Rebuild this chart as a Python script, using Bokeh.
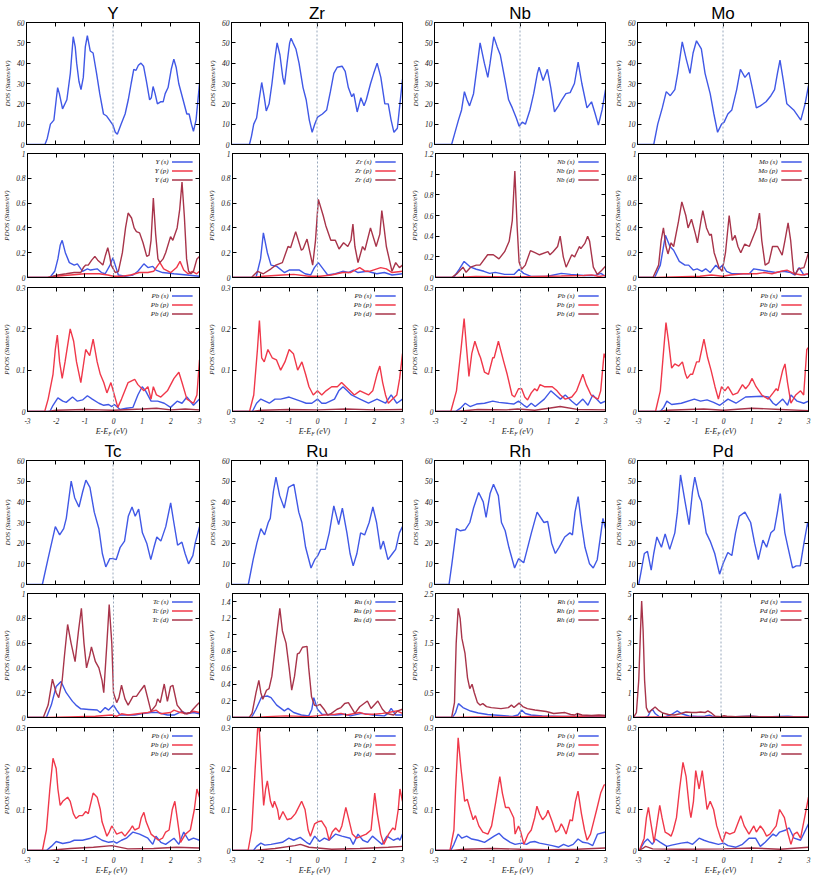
from bokeh.plotting import figure
from bokeh.layouts import row, column
from bokeh.models import Range1d, FixedTicker, Span, Label, Arrow, LinearAxis, Div
from bokeh.embed import file_html
from bokeh.resources import INLINE

# ---------------- data (energy E-E_F in eV, value) ----------------
METALS = ["Y", "Zr", "Nb", "Mo", "Tc", "Ru", "Rh", "Pd"]

Y_DOS = [(-3.0,0),(-2.36,0),(-2.28,3),(-2.17,10),(-2.05,12),(-1.97,22),(-1.92,28),(-1.86,25),(-1.75,17.5),(-1.6,22),(-1.48,35),(-1.38,53),(-1.31,48),(-1.26,40),(-1.18,31),(-1.11,27),(-1.03,33),(-0.96,48),(-0.89,53.5),(-0.79,46),(-0.69,45),(-0.57,35),(-0.46,25),(-0.33,15),(-0.22,14),(-0.12,12),(0.0,9.5),(0.08,6),(0.15,5),(0.28,10),(0.42,15),(0.53,22),(0.63,30),(0.72,37),(0.8,36.5),(0.88,39),(0.97,40),(1.06,38.5),(1.16,31),(1.27,22),(1.33,23),(1.39,28.5),(1.46,25),(1.54,20),(1.65,21),(1.74,21),(1.81,25),(1.91,28),(2.02,37),(2.11,42),(2.19,38),(2.28,30),(2.43,22),(2.56,15),(2.64,15),(2.72,10),(2.79,6.5),(2.88,12),(3.0,30)]
Zr_DOS = [(-3,0),(-2.37,0),(-2.3,4),(-2.22,10),(-2.12,13),(-2.03,22),(-1.94,30.5),(-1.86,24),(-1.78,16.5),(-1.68,20),(-1.58,30),(-1.48,42),(-1.4,50),(-1.3,44),(-1.2,33),(-1.14,29.5),(-1.05,40),(-0.96,50),(-0.91,52.3),(-0.84,50),(-0.74,47),(-0.63,40),(-0.49,28),(-0.38,22),(-0.27,12),(-0.17,6),(-0.08,10),(0.02,13.5),(0.19,15),(0.34,17),(0.47,26),(0.59,35),(0.71,38),(0.88,38.5),(0.99,36),(1.1,28),(1.22,23.5),(1.29,25),(1.41,16),(1.54,23),(1.65,19),(1.73,22),(1.88,30),(1.99,35),(2.11,40),(2.24,33),(2.38,20),(2.5,20),(2.6,12),(2.7,6),(2.82,8),(2.91,20),(3.0,32)]
Nb_DOS = [(-3,0),(-2.4,0),(-2.3,5),(-2.16,12),(-2.05,17),(-1.95,26),(-1.86,22),(-1.77,19),(-1.63,25),(-1.49,40),(-1.4,50),(-1.25,40),(-1.13,33),(-1.05,40),(-0.92,53),(-0.8,48),(-0.69,44),(-0.53,32),(-0.4,22),(-0.27,18),(-0.13,13),(-0.03,9),(0.08,11),(0.19,10),(0.35,17),(0.48,25),(0.61,35),(0.67,38),(0.81,31.5),(0.96,37),(1.08,28),(1.21,16),(1.35,19),(1.47,22),(1.61,25),(1.76,25.5),(1.91,30),(2.04,40.5),(2.17,30),(2.35,18),(2.51,21),(2.64,15),(2.75,9.5),(2.88,17),(3.0,27)]
Mo_DOS = [(-3,0),(-2.43,0),(-2.29,10),(-2.13,18),(-1.99,26),(-1.85,24),(-1.69,27),(-1.59,35),(-1.43,50.5),(-1.29,42),(-1.16,35),(-1.05,45),(-0.93,51),(-0.76,47),(-0.63,35),(-0.45,25),(-0.32,15),(-0.19,6),(-0.05,10),(0.04,11),(0.17,15),(0.31,17),(0.48,27),(0.61,37),(0.77,33),(0.91,35.5),(1.04,27),(1.17,18),(1.31,19),(1.51,21),(1.68,24),(1.81,27),(1.91,35),(2.0,41.5),(2.11,32),(2.24,20),(2.48,17),(2.73,12),(2.88,20),(3.0,29)]
Tc_DOS = [(-3,0),(-2.45,0),(-2.26,12),(-2.13,20),(-2.0,28),(-1.85,24),(-1.71,27),(-1.62,32),(-1.45,50),(-1.33,42),(-1.18,37.5),(-1.05,45),(-0.94,50.5),(-0.8,47),(-0.65,35),(-0.49,27),(-0.37,15),(-0.25,8.5),(-0.11,12.5),(0.0,12.5),(0.11,12),(0.25,18),(0.4,21),(0.53,33),(0.66,37.5),(0.77,33),(0.89,36.5),(1.02,25),(1.17,20),(1.31,12),(1.42,18),(1.52,23),(1.66,21),(1.83,28),(2.0,39.5),(2.11,30),(2.24,19),(2.39,20.5),(2.5,15),(2.62,10),(2.77,14),(2.85,20),(3.0,28)]
Ru_DOS = [(-3,0),(-2.41,0),(-2.24,12),(-2.11,20),(-1.97,27),(-1.84,24),(-1.71,30),(-1.64,32),(-1.53,45),(-1.44,52),(-1.31,43),(-1.15,37),(-1.0,47),(-0.81,48.5),(-0.64,35),(-0.53,30),(-0.4,18),(-0.21,8),(-0.08,12),(0.03,14),(0.13,17),(0.29,17),(0.43,25),(0.59,38),(0.76,29),(0.89,37),(1.05,25),(1.16,15),(1.27,9),(1.4,15),(1.53,25),(1.67,24),(1.83,30),(1.96,37.5),(2.09,30),(2.23,17),(2.33,21),(2.49,12),(2.65,15),(2.76,17),(2.89,25),(3.0,28)]
Rh_DOS = [(-3,0),(-2.49,0),(-2.39,10),(-2.23,27),(-2.09,26),(-1.92,26.5),(-1.76,30),(-1.63,37),(-1.45,44.5),(-1.29,40),(-1.19,32.5),(-1.05,44),(-0.93,48.5),(-0.76,43),(-0.65,30),(-0.52,26),(-0.39,18),(-0.19,8),(-0.05,12.5),(0.13,10.5),(0.27,18),(0.4,25),(0.6,35),(0.84,30),(0.97,30.5),(1.11,20),(1.24,15),(1.37,18),(1.57,23),(1.75,25),(1.84,24),(1.93,35),(2.04,42.5),(2.15,30),(2.28,18),(2.44,10),(2.57,8),(2.71,12),(2.84,25),(2.91,32),(3.0,27)]
Pd_DOS = [(-3,0),(-2.96,0),(-2.89,5),(-2.76,15),(-2.65,16),(-2.52,7),(-2.43,15),(-2.32,23),(-2.16,18),(-2.03,24.5),(-1.87,17),(-1.69,25),(-1.6,35),(-1.49,53),(-1.33,40),(-1.19,29),(-1.07,45),(-0.99,52),(-0.85,43),(-0.76,40),(-0.59,25),(-0.45,21),(-0.29,15),(-0.12,5),(0.0,10),(0.17,15.5),(0.31,14),(0.44,25),(0.57,33),(0.77,35),(0.97,30),(1.11,20),(1.24,12),(1.4,21.5),(1.53,18),(1.68,25),(1.8,26.5),(1.91,35),(2.01,44),(2.17,25),(2.28,18),(2.44,8),(2.57,9),(2.71,9),(2.84,20),(2.97,30),(3.0,28)]

# metal s / p / d projected DOS
Y_S = [(-3,0),(-2.22,0),(-2.05,0.05),(-1.94,0.15),(-1.86,0.26),(-1.79,0.3),(-1.68,0.2),(-1.54,0.12),(-1.37,0.1),(-1.26,0.11),(-1.08,0.05),(-0.91,0.07),(-0.8,0.06),(-0.57,0.07),(-0.42,0.04),(-0.29,0.03),(-0.12,0.1),(-0.02,0.16),(0.06,0.1),(0.17,0.02),(0.4,0.01),(0.68,0.02),(0.85,0.05),(1.06,0.11),(1.2,0.08),(1.37,0.09),(1.48,0.06),(1.71,0.04),(2.11,0.03),(2.56,0.02),(3.0,0.01)]
Y_P = [(-3,0),(-2.3,0),(-2.0,0.01),(-1.5,0.02),(-1.0,0.03),(-0.5,0.03),(-0.2,0.02),(0.0,0.01),(0.3,0.01),(0.6,0.02),(0.9,0.04),(1.2,0.04),(1.4,0.05),(1.55,0.1),(1.62,0.12),(1.75,0.07),(2.0,0.04),(2.2,0.08),(2.32,0.13),(2.45,0.06),(2.6,0.03),(2.75,0.05),(2.9,0.03),(3.0,0.05)]
Y_D = [(-3,0),(-2.3,0),(-2.11,0.01),(-1.94,0.02),(-1.65,0.03),(-1.37,0.04),(-1.14,0.04),(-1.05,0.08),(-0.97,0.1),(-0.88,0.1),(-0.76,0.14),(-0.65,0.17),(-0.55,0.14),(-0.46,0.12),(-0.37,0.1),(-0.28,0.18),(-0.2,0.24),(-0.14,0.18),(-0.08,0.1),(0.06,0.04),(0.17,0.05),(0.31,0.2),(0.42,0.4),(0.51,0.52),(0.63,0.48),(0.72,0.4),(0.8,0.37),(0.91,0.36),(1.03,0.28),(1.16,0.17),(1.24,0.18),(1.31,0.3),(1.39,0.64),(1.47,0.35),(1.55,0.15),(1.62,0.12),(1.73,0.15),(1.82,0.2),(1.99,0.33),(2.07,0.3),(2.22,0.4),(2.31,0.55),(2.39,0.77),(2.47,0.5),(2.55,0.15),(2.62,0.05),(2.7,0.03),(2.79,0.05),(2.91,0.15),(3.0,0.17)]
Zr_S = [(-3,0),(-2.17,0),(-2.01,0.15),(-1.91,0.36),(-1.77,0.2),(-1.64,0.1),(-1.44,0.09),(-1.17,0.04),(-1.0,0.06),(-0.64,0.06),(-0.44,0.03),(-0.24,0.02),(-0.11,0.08),(0.03,0.12),(0.23,0.06),(0.36,0.02),(0.63,0.03),(0.89,0.05),(1.09,0.04),(1.27,0.06),(1.43,0.04),(1.76,0.05),(2.09,0.03),(2.36,0.04),(2.63,0.02),(3.0,0.03)]
Zr_P = [(-3,0),(-2.33,0),(-1.91,0.01),(-1.24,0.02),(-0.84,0.025),(-0.31,0.01),(0.09,0.01),(0.49,0.02),(0.89,0.04),(1.16,0.04),(1.49,0.08),(1.69,0.05),(1.83,0.05),(2.23,0.08),(2.43,0.07),(2.63,0.04),(3.0,0.05)]
Zr_D = [(-3,0),(-2.33,0),(-2.11,0.05),(-1.91,0.03),(-1.64,0.07),(-1.47,0.1),(-1.24,0.12),(-1.04,0.25),(-0.95,0.24),(-0.77,0.37),(-0.57,0.22),(-0.51,0.23),(-0.37,0.31),(-0.17,0.1),(-0.07,0.3),(0.03,0.63),(0.2,0.5),(0.29,0.42),(0.47,0.3),(0.63,0.3),(0.76,0.23),(0.92,0.28),(1.07,0.25),(1.18,0.3),(1.25,0.43),(1.32,0.25),(1.43,0.12),(1.59,0.25),(1.67,0.22),(1.87,0.4),(2.07,0.25),(2.2,0.35),(2.27,0.54),(2.35,0.4),(2.43,0.25),(2.63,0.05),(2.76,0.12),(2.89,0.08),(3.0,0.1)]
Nb_S = [(-3,0),(-2.36,0),(-2.16,0.08),(-1.99,0.155),(-1.76,0.1),(-1.56,0.08),(-1.29,0.06),(-1.09,0.04),(-0.89,0.05),(-0.56,0.03),(-0.23,0.03),(-0.05,0.08),(0.11,0.04),(0.37,0.01),(0.91,0.01),(1.44,0.04),(1.77,0.03),(2.24,0.02),(2.64,0.02),(2.84,0.04),(3.0,0.01)]
Nb_P = [(-3,0),(-2.37,0),(-1.57,0.01),(-0.23,0.005),(0.57,0.01),(1.44,0.015),(2.24,0.02),(2.51,0.025),(2.77,0.01),(3.0,0.02)]
Nb_D = [(-3,0),(-2.43,0),(-2.23,0.04),(-2.03,0.1),(-1.92,0.05),(-1.76,0.1),(-1.56,0.12),(-1.43,0.12),(-1.16,0.22),(-0.96,0.22),(-0.76,0.18),(-0.56,0.25),(-0.4,0.35),(-0.29,0.55),(-0.2,1.03),(-0.12,0.5),(-0.05,0.15),(0.04,0.08),(0.17,0.12),(0.35,0.26),(0.51,0.24),(0.67,0.22),(0.97,0.25),(1.04,0.22),(1.15,0.25),(1.31,0.3),(1.4,0.4),(1.51,0.2),(1.61,0.1),(1.81,0.22),(1.91,0.2),(2.08,0.3),(2.13,0.28),(2.27,0.33),(2.37,0.4),(2.44,0.35),(2.57,0.1),(2.71,0.03),(2.87,0.07),(3.0,0.11)]
Mo_S = [(-3,0),(-2.43,0),(-2.23,0.1),(-2.05,0.34),(-1.89,0.25),(-1.76,0.22),(-1.56,0.13),(-1.36,0.1),(-1.23,0.1),(-1.07,0.06),(-0.93,0.07),(-0.76,0.05),(-0.63,0.07),(-0.47,0.04),(-0.27,0.1),(-0.16,0.07),(-0.03,0.1),(0.11,0.05),(0.31,0.03),(0.71,0.03),(0.91,0.03),(1.07,0.07),(1.31,0.06),(1.57,0.05),(1.84,0.04),(2.11,0.05),(2.37,0.04),(2.51,0.02),(2.67,0.08),(2.84,0.02),(3.0,0.03)]
Mo_P = [(-3,0),(-2.43,0),(-1.76,0.005),(-0.83,0.01),(-0.43,0.02),(-0.03,0.01),(0.24,0.02),(0.71,0.03),(1.17,0.03),(1.44,0.04),(1.71,0.03),(2.04,0.05),(2.24,0.06),(2.51,0.03),(2.77,0.02),(3.0,0.03)]
Mo_D = [(-3,0),(-2.49,0),(-2.29,0.1),(-2.2,0.3),(-2.12,0.4),(-2.03,0.25),(-1.96,0.19),(-1.85,0.28),(-1.76,0.25),(-1.59,0.45),(-1.47,0.61),(-1.33,0.5),(-1.25,0.4),(-1.13,0.47),(-0.99,0.35),(-0.92,0.28),(-0.8,0.45),(-0.73,0.54),(-0.6,0.4),(-0.49,0.34),(-0.43,0.35),(-0.33,0.2),(-0.16,0.08),(-0.05,0.05),(0.07,0.2),(0.2,0.5),(0.31,0.3),(0.41,0.34),(0.51,0.25),(0.61,0.2),(0.75,0.27),(0.91,0.25),(1.17,0.4),(1.27,0.52),(1.35,0.3),(1.47,0.1),(1.6,0.12),(1.73,0.25),(1.91,0.25),(2.07,0.18),(2.17,0.3),(2.28,0.44),(2.37,0.3),(2.47,0.05),(2.53,0.02),(2.64,0.07),(2.84,0.08),(3.0,0.2)]
Tc_S = [(-3,0),(-2.34,0),(-2.17,0.1),(-2.0,0.25),(-1.83,0.29),(-1.65,0.2),(-1.43,0.13),(-1.31,0.1),(-1.14,0.07),(-0.86,0.065),(-0.57,0.06),(-0.46,0.04),(-0.29,0.08),(-0.17,0.06),(0.0,0.1),(0.11,0.06),(0.23,0.02),(0.74,0.02),(0.97,0.03),(1.31,0.04),(1.54,0.04),(1.88,0.02),(2.11,0.02),(2.39,0.05),(2.56,0.03),(2.79,0.04),(3.0,0.03)]
Tc_P = [(-3,0),(-2.34,0),(-1.54,0.005),(-0.63,0.01),(-0.06,0.02),(0.11,0.01),(0.28,0.03),(0.51,0.02),(0.85,0.03),(1.2,0.04),(1.48,0.06),(1.65,0.03),(1.99,0.04),(2.11,0.06),(2.34,0.04),(2.56,0.03),(2.79,0.05),(3.0,0.04)]
Tc_D = [(-3,0),(-2.45,0),(-2.28,0.1),(-2.13,0.31),(-2.0,0.2),(-1.91,0.16),(-1.79,0.3),(-1.71,0.5),(-1.6,0.75),(-1.48,0.6),(-1.34,0.45),(-1.22,0.7),(-1.12,0.88),(-1.03,0.6),(-0.94,0.4),(-0.83,0.5),(-0.77,0.57),(-0.63,0.45),(-0.51,0.4),(-0.4,0.3),(-0.34,0.2),(-0.23,0.6),(-0.15,0.91),(-0.06,0.6),(0.0,0.2),(0.11,0.12),(0.19,0.16),(0.28,0.26),(0.4,0.15),(0.51,0.1),(0.68,0.17),(0.8,0.17),(0.95,0.22),(1.08,0.26),(1.2,0.15),(1.31,0.05),(1.48,0.1),(1.54,0.15),(1.63,0.12),(1.77,0.27),(1.88,0.13),(1.99,0.25),(2.07,0.26),(2.22,0.1),(2.39,0.05),(2.48,0.03),(2.68,0.04),(2.79,0.07),(2.91,0.1),(3.0,0.12)]
Ru_S = [(-3,0),(-2.33,0),(-2.17,0.1),(-1.97,0.25),(-1.77,0.26),(-1.64,0.24),(-1.44,0.15),(-1.17,0.08),(-1.04,0.11),(-0.84,0.06),(-0.57,0.03),(-0.31,0.02),(-0.2,0.1),(-0.13,0.24),(0.0,0.1),(0.16,0.04),(0.63,0.03),(0.96,0.04),(1.16,0.02),(1.56,0.05),(1.96,0.03),(2.36,0.02),(2.49,0.05),(2.6,0.11),(2.76,0.03),(3.0,0.03)]
Ru_P = [(-3,0),(-2.33,0),(-1.77,0.01),(-1.11,0.02),(-0.31,0.01),(-0.04,0.02),(0.23,0.03),(0.63,0.04),(0.83,0.05),(1.03,0.03),(1.49,0.06),(1.69,0.04),(2.0,0.04),(2.3,0.05),(2.5,0.06),(2.8,0.08),(3.0,0.05)]
Ru_D = [(-3,0),(-2.41,0),(-2.31,0.05),(-2.17,0.3),(-2.07,0.45),(-2.0,0.3),(-1.93,0.22),(-1.8,0.33),(-1.71,0.35),(-1.61,0.5),(-1.51,0.8),(-1.41,1.1),(-1.33,1.32),(-1.24,1.05),(-1.11,0.9),(-1.0,0.6),(-0.91,0.33),(-0.81,0.5),(-0.71,0.77),(-0.64,0.78),(-0.53,0.85),(-0.37,0.86),(-0.31,0.6),(-0.21,0.25),(-0.11,0.15),(-0.04,0.14),(0.09,0.16),(0.23,0.1),(0.36,0.03),(0.49,0.05),(0.69,0.1),(0.83,0.12),(0.96,0.17),(1.09,0.18),(1.23,0.1),(1.32,0.05),(1.49,0.13),(1.76,0.2),(1.89,0.11),(2.13,0.2),(2.29,0.1),(2.43,0.05),(2.56,0.04),(2.69,0.03),(2.83,0.08),(3.0,0.1)]
Rh_S = [(-3,0),(-2.4,0),(-2.29,0.1),(-2.19,0.28),(-2.03,0.2),(-1.76,0.13),(-1.49,0.09),(-1.16,0.06),(-0.69,0.04),(-0.29,0.02),(-0.09,0.05),(0.04,0.15),(0.17,0.08),(0.37,0.05),(0.77,0.03),(1.44,0.02),(1.97,0.02),(3.0,0.01)]
Rh_P = [(-3,0),(-2.4,0),(-1.56,0.01),(-0.23,0.01),(0.44,0.02),(1.77,0.02),(2.44,0.03),(3.0,0.03)]
Rh_D = [(-3,0),(-2.43,0),(-2.33,0.3),(-2.27,1.5),(-2.2,2.2),(-2.13,2.0),(-2.07,1.6),(-1.96,1.3),(-1.87,0.8),(-1.79,0.58),(-1.71,0.67),(-1.63,0.5),(-1.52,0.3),(-1.43,0.25),(-1.33,0.28),(-1.2,0.22),(-1.03,0.2),(-0.69,0.18),(-0.43,0.2),(-0.32,0.25),(-0.23,0.2),(-0.05,0.29),(0.08,0.22),(0.24,0.18),(0.51,0.15),(0.91,0.12),(1.17,0.08),(1.57,0.1),(1.77,0.06),(1.91,0.05),(2.0,0.08),(2.17,0.05),(2.51,0.04),(2.77,0.05),(3.0,0.04)]
Pd_S = [(-3,0),(-2.6,0),(-2.5,0.05),(-2.42,0.25),(-2.35,0.33),(-2.25,0.15),(-2.1,0.02),(-1.9,0.03),(-1.7,0.12),(-1.5,0.27),(-1.35,0.15),(-1.1,0.06),(-0.8,0.04),(-0.55,0.05),(-0.4,0.09),(-0.3,0.05),(-0.1,0.01),(0.2,0.01),(0.5,0.03),(1.0,0.05),(1.5,0.02),(2.0,0.04),(2.3,0.05),(2.6,0.02),(3.0,0.03)]
Pd_P = [(-3,0),(-2.8,0.01),(-2.3,0.02),(-1.5,0.02),(-0.5,0.01),(0.2,0.02),(1.0,0.02),(2.0,0.02),(3.0,0.02)]
Pd_D = [(-3,0),(-2.9,0.2),(-2.82,1.5),(-2.76,3.5),(-2.72,4.7),(-2.67,3.5),(-2.62,1.5),(-2.56,0.4),(-2.48,0.2),(-2.4,0.28),(-2.26,0.42),(-2.15,0.3),(-2.0,0.18),(-1.8,0.12),(-1.6,0.1),(-1.4,0.15),(-1.2,0.22),(-1.0,0.2),(-0.85,0.2),(-0.7,0.22),(-0.55,0.2),(-0.45,0.27),(-0.35,0.2),(-0.2,0.05),(0.0,0.03),(0.1,0.07),(0.2,0.05),(0.5,0.03),(0.7,0.04),(1.0,0.05),(1.3,0.03),(1.6,0.02),(2.0,0.03),(2.5,0.02),(3.0,0.02)]

# Pb s / p / d projected DOS
Y_PBS = [(-3,0),(-2.22,0),(-2.11,0.015),(-1.94,0.033),(-1.77,0.025),(-1.65,0.022),(-1.43,0.035),(-1.26,0.025),(-1.08,0.028),(-0.91,0.038),(-0.74,0.03),(-0.51,0.02),(-0.34,0.015),(-0.17,0.017),(-0.06,0.012),(0.03,0.017),(0.23,0.005),(0.45,0.008),(0.68,0.01),(0.85,0.04),(1.0,0.06),(1.12,0.05),(1.31,0.025),(1.54,0.025),(1.77,0.02),(1.99,0.01),(2.22,0.025),(2.39,0.02),(2.56,0.035),(2.79,0.015),(3.0,0.03)]
Y_PBP = [(-3,0),(-2.4,0),(-2.28,0.03),(-2.11,0.09),(-2.03,0.15),(-1.96,0.185),(-1.88,0.12),(-1.79,0.08),(-1.69,0.12),(-1.51,0.2),(-1.39,0.17),(-1.29,0.12),(-1.14,0.07),(-0.97,0.15),(-0.83,0.135),(-0.71,0.175),(-0.57,0.12),(-0.46,0.09),(-0.34,0.07),(-0.23,0.045),(-0.09,0.07),(0.03,0.04),(0.15,0.01),(0.28,0.03),(0.51,0.07),(0.74,0.078),(0.85,0.065),(1.06,0.05),(1.2,0.06),(1.31,0.03),(1.39,0.06),(1.5,0.04),(1.65,0.035),(1.88,0.05),(2.11,0.08),(2.28,0.095),(2.39,0.07),(2.56,0.03),(2.79,0.02),(2.91,0.04),(3.0,0.125)]
Y_PBD = [(-3,0),(-2.3,0),(-2.0,0.003),(-1.0,0.005),(-0.5,0.004),(0.0,0.003),(1.0,0.006),(1.5,0.008),(2.0,0.004),(2.5,0.006),(3.0,0.004)]
Zr_PBS = [(-3,0),(-2.3,0),(-2.15,0.02),(-2.0,0.03),(-1.85,0.025),(-1.7,0.02),(-1.5,0.03),(-1.3,0.03),(-1.0,0.035),(-0.8,0.03),(-0.6,0.025),(-0.4,0.02),(-0.2,0.02),(0.0,0.03),(0.15,0.02),(0.3,0.02),(0.6,0.03),(0.75,0.05),(0.9,0.06),(1.05,0.05),(1.2,0.04),(1.5,0.03),(1.8,0.02),(2.1,0.03),(2.4,0.02),(2.6,0.04),(2.8,0.02),(3.0,0.03)]
Zr_PBP = [(-3,0),(-2.4,0),(-2.25,0.04),(-2.12,0.15),(-2.05,0.22),(-1.97,0.13),(-1.88,0.12),(-1.75,0.15),(-1.6,0.13),(-1.45,0.125),(-1.3,0.1),(-1.15,0.12),(-1.0,0.15),(-0.85,0.14),(-0.7,0.1),(-0.55,0.12),(-0.42,0.09),(-0.3,0.06),(-0.15,0.04),(0.0,0.05),(0.15,0.04),(0.3,0.05),(0.5,0.06),(0.7,0.06),(0.85,0.07),(1.0,0.06),(1.15,0.05),(1.3,0.04),(1.5,0.05),(1.65,0.045),(1.8,0.04),(1.95,0.05),(2.1,0.09),(2.2,0.11),(2.3,0.07),(2.4,0.04),(2.5,0.02),(2.65,0.03),(2.8,0.04),(2.9,0.08),(3.0,0.14)]
Zr_PBD = [(-3,0),(-2.3,0),(-2.0,0.003),(-1.0,0.005),(0.0,0.004),(1.0,0.006),(2.0,0.004),(3.0,0.005)]
Nb_PBS = [(-3,0),(-2.29,0),(-2.12,0.008),(-1.95,0.02),(-1.78,0.012),(-1.55,0.018),(-1.27,0.02),(-0.98,0.025),(-0.76,0.022),(-0.47,0.02),(-0.24,0.018),(-0.07,0.025),(0.12,0.015),(0.23,0.01),(0.38,0.02),(0.52,0.012),(0.84,0.03),(1.07,0.05),(1.24,0.04),(1.41,0.03),(1.58,0.04),(1.81,0.025),(1.98,0.015),(2.2,0.03),(2.38,0.015),(2.55,0.04),(2.83,0.02),(3.0,0.025)]
Nb_PBP = [(-3,0),(-2.46,0),(-2.26,0.05),(-2.1,0.15),(-1.99,0.225),(-1.9,0.15),(-1.82,0.085),(-1.72,0.14),(-1.61,0.17),(-1.47,0.14),(-1.41,0.13),(-1.27,0.095),(-1.13,0.09),(-0.98,0.13),(-0.93,0.13),(-0.78,0.17),(-0.59,0.12),(-0.47,0.09),(-0.3,0.04),(-0.21,0.035),(-0.07,0.055),(0.04,0.055),(0.15,0.035),(0.25,0.028),(0.38,0.045),(0.5,0.055),(0.59,0.05),(0.69,0.065),(0.84,0.06),(1.12,0.06),(1.29,0.05),(1.41,0.04),(1.58,0.03),(1.81,0.035),(1.98,0.05),(2.2,0.09),(2.32,0.065),(2.49,0.04),(2.6,0.035),(2.74,0.03),(2.83,0.05),(2.95,0.14),(3.0,0.13)]
Nb_PBD = [(-3,0),(-2.3,0),(-1.5,0.005),(-0.5,0.004),(-0.1,0.006),(0.5,0.003),(1.0,0.008),(1.4,0.012),(2.0,0.005),(3.0,0.004)]
Mo_PBS = [(-3,0),(-2.23,0),(-2.11,0.01),(-2.0,0.025),(-1.83,0.017),(-1.49,0.02),(-1.03,0.03),(-0.81,0.025),(-0.58,0.028),(-0.35,0.022),(-0.13,0.015),(0.16,0.03),(0.44,0.02),(0.78,0.035),(1.35,0.037),(1.58,0.035),(1.75,0.02),(1.86,0.015),(2.09,0.03),(2.26,0.015),(2.38,0.04),(2.6,0.025),(2.83,0.02),(3.0,0.025)]
Mo_PBP = [(-3,0),(-2.4,0),(-2.23,0.05),(-2.11,0.15),(-2.03,0.215),(-1.94,0.17),(-1.83,0.105),(-1.72,0.115),(-1.58,0.11),(-1.45,0.12),(-1.34,0.09),(-1.28,0.08),(-1.17,0.09),(-1.09,0.09),(-0.95,0.12),(-0.86,0.12),(-0.69,0.175),(-0.56,0.13),(-0.44,0.1),(-0.3,0.06),(-0.18,0.03),(-0.07,0.06),(0.05,0.05),(0.16,0.06),(0.33,0.04),(0.5,0.045),(0.67,0.065),(0.78,0.055),(0.9,0.065),(1.01,0.08),(1.15,0.06),(1.35,0.04),(1.58,0.03),(1.75,0.045),(1.86,0.055),(1.92,0.05),(2.09,0.1),(2.17,0.115),(2.26,0.07),(2.38,0.02),(2.55,0.04),(2.72,0.05),(2.83,0.04),(2.94,0.15),(3.0,0.155)]
Mo_PBD = [(-3,0),(-2.3,0),(-2.0,0.003),(-0.7,0.006),(0.0,0.003),(1.0,0.008),(2.0,0.005),(3.0,0.002)]
Tc_PBS = [(-3,0),(-2.34,0),(-2.17,0.01),(-2.0,0.022),(-1.77,0.017),(-1.54,0.02),(-1.37,0.025),(-1.08,0.025),(-0.8,0.03),(-0.63,0.035),(-0.4,0.025),(-0.17,0.02),(0.0,0.022),(0.11,0.018),(0.28,0.025),(0.45,0.03),(0.68,0.045),(0.91,0.04),(1.2,0.03),(1.37,0.015),(1.48,0.035),(1.65,0.02),(1.82,0.015),(2.11,0.03),(2.28,0.015),(2.45,0.045),(2.62,0.025),(2.79,0.03),(3.0,0.025)]
Tc_PBP = [(-3,0),(-2.48,0),(-2.34,0.05),(-2.22,0.15),(-2.11,0.225),(-2.0,0.2),(-1.94,0.15),(-1.86,0.11),(-1.77,0.12),(-1.6,0.13),(-1.51,0.12),(-1.4,0.09),(-1.31,0.078),(-1.2,0.085),(-1.08,0.085),(-0.97,0.095),(-0.88,0.09),(-0.71,0.14),(-0.57,0.13),(-0.46,0.1),(-0.4,0.07),(-0.23,0.035),(-0.15,0.045),(-0.06,0.06),(0.03,0.05),(0.11,0.04),(0.28,0.045),(0.4,0.035),(0.57,0.05),(0.66,0.06),(0.74,0.05),(0.89,0.055),(0.97,0.08),(1.06,0.093),(1.14,0.07),(1.31,0.04),(1.57,0.025),(1.71,0.03),(1.82,0.045),(1.94,0.05),(2.05,0.1),(2.14,0.12),(2.22,0.08),(2.34,0.02),(2.51,0.04),(2.68,0.05),(2.82,0.1),(2.91,0.15),(3.0,0.13)]
Tc_PBD = [(-3,0),(-2.3,0),(-1.5,0.005),(-0.7,0.008),(-0.05,0.012),(0.5,0.004),(1.4,0.005),(2.2,0.008),(3.0,0.006)]
Ru_PBS = [(-3,0),(-2.26,0),(-2.15,0.01),(-2.0,0.018),(-1.86,0.013),(-1.64,0.015),(-1.24,0.02),(-1.01,0.03),(-0.84,0.025),(-0.61,0.032),(-0.39,0.02),(-0.27,0.015),(-0.1,0.035),(0.07,0.022),(0.24,0.03),(0.41,0.025),(0.64,0.04),(0.86,0.035),(1.15,0.03),(1.26,0.015),(1.43,0.04),(1.6,0.025),(1.77,0.02),(1.94,0.035),(2.11,0.025),(2.28,0.015),(2.45,0.035),(2.68,0.025),(2.85,0.03),(2.91,0.025),(3.0,0.04)]
Ru_PBP = [(-3,0),(-2.45,0),(-2.32,0.05),(-2.2,0.2),(-2.11,0.3),(-2.06,0.3),(-1.98,0.2),(-1.9,0.11),(-1.83,0.15),(-1.77,0.17),(-1.66,0.12),(-1.58,0.105),(-1.52,0.12),(-1.41,0.1),(-1.35,0.075),(-1.22,0.095),(-1.07,0.075),(-0.93,0.078),(-0.78,0.09),(-0.56,0.12),(-0.44,0.1),(-0.33,0.05),(-0.25,0.035),(-0.1,0.065),(0.01,0.07),(0.14,0.072),(0.3,0.055),(0.41,0.025),(0.52,0.045),(0.64,0.055),(0.77,0.045),(0.86,0.06),(1.0,0.105),(1.09,0.08),(1.23,0.04),(1.38,0.03),(1.55,0.035),(1.72,0.04),(1.89,0.05),(2.02,0.14),(2.11,0.09),(2.23,0.04),(2.34,0.015),(2.51,0.04),(2.66,0.055),(2.74,0.05),(2.85,0.1),(2.91,0.15),(3.0,0.12)]
Ru_PBD = [(-3,0),(-2.3,0),(-1.5,0.005),(-0.8,0.012),(-0.6,0.015),(-0.3,0.008),(0.5,0.003),(1.5,0.005),(2.5,0.008),(3.0,0.01)]
Rh_PBS = [(-3,0),(-2.46,0),(-2.35,0.015),(-2.2,0.04),(-2.07,0.03),(-1.9,0.035),(-1.72,0.028),(-1.5,0.025),(-1.27,0.02),(-0.93,0.035),(-0.76,0.042),(-0.59,0.03),(-0.36,0.02),(-0.19,0.015),(0.04,0.018),(0.21,0.015),(0.33,0.02),(0.5,0.022),(0.67,0.018),(0.9,0.015),(1.12,0.012),(1.35,0.008),(1.52,0.015),(1.69,0.01),(1.86,0.015),(2.03,0.028),(2.2,0.02),(2.38,0.018),(2.55,0.012),(2.72,0.04),(3.0,0.045)]
Rh_PBP = [(-3,0),(-2.49,0),(-2.35,0.05),(-2.29,0.15),(-2.2,0.275),(-2.1,0.2),(-1.97,0.12),(-1.88,0.125),(-1.78,0.1),(-1.67,0.075),(-1.59,0.085),(-1.47,0.06),(-1.33,0.045),(-1.15,0.04),(-1.02,0.06),(-0.87,0.12),(-0.73,0.18),(-0.64,0.14),(-0.53,0.105),(-0.41,0.105),(-0.24,0.08),(-0.19,0.04),(-0.07,0.06),(0.01,0.045),(0.12,0.015),(0.27,0.04),(0.38,0.05),(0.5,0.08),(0.58,0.108),(0.67,0.09),(0.78,0.075),(0.9,0.085),(0.97,0.098),(1.12,0.07),(1.24,0.045),(1.35,0.05),(1.44,0.065),(1.52,0.055),(1.61,0.04),(1.75,0.075),(1.83,0.072),(1.94,0.12),(2.03,0.145),(2.15,0.09),(2.26,0.05),(2.35,0.025),(2.47,0.04),(2.58,0.07),(2.69,0.1),(2.83,0.14),(2.95,0.16),(3.0,0.16)]
Rh_PBD = [(-3,0),(-2.4,0),(-2.0,0.003),(-1.0,0.005),(0.0,0.003),(1.0,0.002),(2.0,0.003),(3.0,0.006)]
Pd_PBS = [(-3,0),(-2.97,0),(-2.8,0.02),(-2.68,0.028),(-2.51,0.015),(-2.4,0.028),(-2.23,0.02),(-2.0,0.01),(-1.83,0.013),(-1.49,0.018),(-1.26,0.02),(-1.09,0.015),(-0.86,0.03),(-0.69,0.025),(-0.47,0.02),(-0.18,0.015),(0.01,0.018),(0.16,0.012),(0.44,0.008),(0.67,0.015),(0.9,0.03),(1.13,0.03),(1.3,0.01),(1.47,0.02),(1.75,0.04),(1.86,0.035),(1.98,0.045),(2.2,0.05),(2.32,0.055),(2.49,0.03),(2.72,0.025),(3.0,0.065)]
Pd_PBP = [(-3,0),(-2.97,0),(-2.8,0.03),(-2.72,0.08),(-2.65,0.105),(-2.57,0.07),(-2.45,0.02),(-2.36,0.06),(-2.25,0.11),(-2.17,0.08),(-2.06,0.045),(-1.94,0.04),(-1.85,0.035),(-1.77,0.05),(-1.66,0.08),(-1.55,0.15),(-1.43,0.215),(-1.32,0.18),(-1.2,0.1),(-1.15,0.08),(-1.06,0.12),(-0.98,0.195),(-0.86,0.15),(-0.75,0.195),(-0.67,0.15),(-0.58,0.1),(-0.47,0.12),(-0.35,0.1),(-0.24,0.06),(-0.1,0.03),(-0.03,0.02),(0.08,0.045),(0.22,0.04),(0.39,0.045),(0.5,0.065),(0.61,0.085),(0.73,0.06),(0.9,0.04),(1.07,0.06),(1.16,0.045),(1.3,0.06),(1.41,0.05),(1.52,0.035),(1.64,0.04),(1.86,0.06),(1.98,0.1),(2.15,0.08),(2.26,0.045),(2.38,0.015),(2.49,0.04),(2.6,0.045),(2.72,0.03),(2.89,0.09),(3.0,0.13)]
Pd_PBD = [(-3,0),(-2.85,0.005),(-2.75,0.01),(-2.5,0.004),(-1.5,0.003),(0.0,0.004),(1.0,0.006),(2.0,0.003),(3.0,0.008)]

# axis ranges / ticks of the metal PDOS panels
PDOS_YMAX = {"Y": 1.0, "Zr": 1.0, "Nb": 1.2, "Mo": 1.0, "Tc": 1.0, "Ru": 1.5, "Rh": 2.5, "Pd": 5.0}
PDOS_TICKS = {
    "Y": [0, 0.2, 0.4, 0.6, 0.8, 1.0], "Zr": [0, 0.2, 0.4, 0.6, 0.8, 1.0],
    "Nb": [0, 0.2, 0.4, 0.6, 0.8, 1.0, 1.2], "Mo": [0, 0.2, 0.4, 0.6, 0.8, 1.0],
    "Tc": [0, 0.2, 0.4, 0.6, 0.8, 1.0], "Ru": [0, 0.2, 0.4, 0.6, 0.8, 1.0, 1.2, 1.4],
    "Rh": [0, 0.5, 1.0, 1.5, 2.0, 2.5], "Pd": [0, 1, 2, 3, 4, 5]}
DOS_TICKS = [0, 10, 20, 30, 40, 50, 60]
PB_TICKS = [0, 0.1, 0.2, 0.3]
X_TICKS = [-3, -2, -1, 0, 1, 2, 3]

G = globals()
DOS = {m: G[m + "_DOS"] for m in METALS}
MS = {m: G[m + "_S"] for m in METALS}
MP = {m: G[m + "_P"] for m in METALS}
MD = {m: G[m + "_D"] for m in METALS}
PBS = {m: G[m + "_PBS"] for m in METALS}
PBP = {m: G[m + "_PBP"] for m in METALS}
PBD = {m: G[m + "_PBD"] for m in METALS}

# ---------------- style ----------------
BLUE = "#4058e6"
RED = "#f0384a"
DRED = "#a8344a"
ZERO = "#98a8bc"
TXT = "#222222"
SERIF = "Liberation Serif"
SANS = "Liberation Sans"
LW = 1.4

COL_W = [205, 203, 203, 201]
LEFTS = [24, 22, 22, 22]
FRAME_W = 175
XLAB_H = 9
# (height, min_border_top, min_border_bottom, frame height) per row of a group
ROWSPEC = [
    [(148, 19, 4, 125), (134, 5, 5, 124), (144, 5, 15, 124)],
    [(153, 25, 4, 124), (134, 5, 5, 124), (143, 5, 15, 123)],
]


def fmt(t):
    return "%g" % t


def unzip(pairs):
    return [a for a, b in pairs], [b for a, b in pairs]


def style_axis(ax, ticks, show, standoff=2):
    ax.ticker = FixedTicker(ticks=ticks)
    ax.major_tick_in = 4
    ax.major_tick_out = 0
    ax.minor_tick_in = 0
    ax.minor_tick_out = 0
    ax.axis_line_color = "black"
    ax.major_tick_line_color = "black"
    ax.major_label_text_font = SERIF
    ax.major_label_text_font_style = "italic"
    ax.major_label_text_font_size = "7.5px"
    ax.major_label_text_color = TXT if show else None
    ax.major_label_standoff = standoff if show else 0
    if show:
        ax.major_label_overrides = {t: fmt(t) for t in ticks}


def panel(width, left, spec, ymax, yticks, ylabel, show_x, title=None):
    h, mbt, mbb, fh = spec
    p = figure(width=width, height=h, x_range=Range1d(-3, 3), y_range=Range1d(0, ymax),
               toolbar_location=None, output_backend="svg",
               x_axis_location=None, y_axis_location=None,
               min_border_left=left, min_border_right=width - left - FRAME_W,
               min_border_top=mbt, min_border_bottom=mbb)
    p.grid.visible = False
    p.outline_line_color = "black"
    p.outline_line_width = 1
    p.background_fill_color = "white"
    p.border_fill_color = "white"
    bx = LinearAxis()
    style_axis(bx, X_TICKS, show_x, standoff=6)
    p.add_layout(bx, "below")
    tx = LinearAxis()
    style_axis(tx, X_TICKS, False)
    if title is not None:
        tx.axis_label = title
        tx.axis_label_text_font = SANS
        tx.axis_label_text_font_style = "normal"
        tx.axis_label_text_font_size = "17px"
        tx.axis_label_text_color = "black"
        tx.axis_label_standoff = 0
    p.add_layout(tx, "above")
    ly = LinearAxis(axis_label=ylabel)
    style_axis(ly, yticks, True, standoff=2)
    ly.axis_label_text_font = SERIF
    ly.axis_label_text_font_style = "italic"
    ly.axis_label_text_font_size = "7px"
    ly.axis_label_text_color = TXT
    ly.axis_label_standoff = 2
    p.add_layout(ly, "left")
    ry = LinearAxis()
    style_axis(ry, yticks, False)
    p.add_layout(ry, "right")
    p.add_layout(Span(location=0, dimension="height", line_color=ZERO,
                      line_dash="2 2", line_width=1))
    return p


def curve(p, pairs, color):
    xs, ys = unzip(pairs)
    p.line(xs, ys, line_color=color, line_width=LW)


def legend(p, labels, colors, ymax, fh):
    for k, (lab, c) in enumerate(zip(labels, colors)):
        dy = 8.5 + 9 * k
        yy = ymax - dy * ymax / fh
        p.add_layout(Label(x=3, y=yy, x_offset=-31, text=lab, text_align="right",
                           text_baseline="middle", text_font=SERIF,
                           text_font_style="italic", text_font_size="7px",
                           text_color=TXT))
        x0 = 3 - 28 * 6.0 / FRAME_W
        x1 = 3 - 7 * 6.0 / FRAME_W
        p.add_layout(Arrow(x_start=x0, y_start=yy, x_end=x1, y_end=yy, end=None,
                           line_color=c, line_width=1.6))


def xlabel_div(width, left):
    html = ('<div style="position:relative;top:-4px;width:%dpx;margin-left:%dpx;'
            'text-align:center;font-family:\'Liberation Serif\';font-style:italic;'
            'font-size:8px;line-height:%dpx;color:%s;white-space:nowrap;">'
            'E-E<span style="font-size:5.5px;line-height:0;position:relative;top:2px;">F</span>'
            ' (eV)</div>' % (FRAME_W, left, XLAB_H, TXT))
    return Div(text=html, width=width, height=XLAB_H, margin=0)


rows = []
for g in range(2):
    r_dos, r_pd, r_pb, r_xl = [], [], [], []
    for ci in range(4):
        m = METALS[g * 4 + ci]
        w = COL_W[ci]
        lf = LEFTS[ci]
        s_dos, s_pd, s_pb = ROWSPEC[g]

        p1 = panel(w, lf, s_dos, 60, DOS_TICKS, "DOS (States/eV)", False, title=m)
        curve(p1, DOS[m], BLUE)
        r_dos.append(p1)

        ym = PDOS_YMAX[m]
        p2 = panel(w, lf, s_pd, ym, PDOS_TICKS[m], "PDOS (States/eV)", False)
        curve(p2, MS[m], BLUE)
        curve(p2, MP[m], RED)
        curve(p2, MD[m], DRED)
        legend(p2, [m + " (s)", m + " (p)", m + " (d)"], [BLUE, RED, DRED], ym, s_pd[3])
        r_pd.append(p2)

        p3 = panel(w, lf, s_pb, 0.3, PB_TICKS, "PDOS (States/eV)", True)
        curve(p3, PBS[m], BLUE)
        curve(p3, PBP[m], RED)
        curve(p3, PBD[m], DRED)
        legend(p3, ["Pb (s)", "Pb (p)", "Pb (d)"], [BLUE, RED, DRED], 0.3, s_pb[3])
        r_pb.append(p3)

        r_xl.append(xlabel_div(w, lf))
    rows += [row(r_dos), row(r_pd), row(r_pb), row(r_xl)]

root = column(rows)

open("out.html", "w").write(file_html(root, INLINE))
